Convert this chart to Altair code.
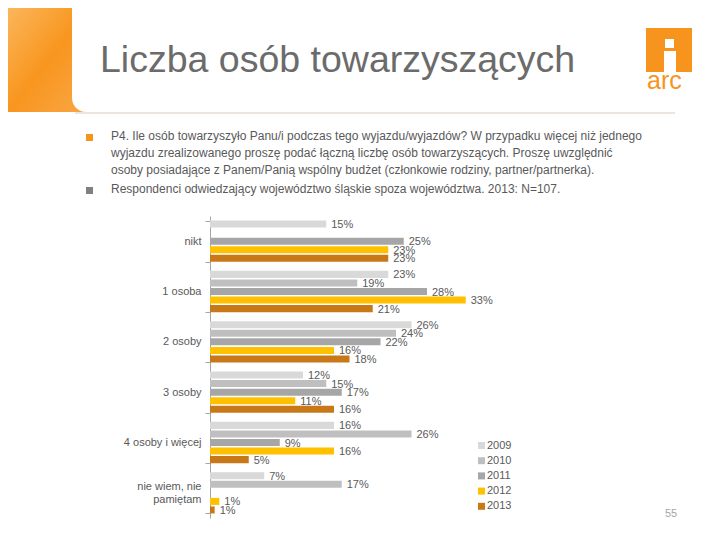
import altair as alt
import pandas as pd

categories = ["nikt", "1 osoba", "2 osoby", "3 osoby", "4 osoby i więcej", "nie wiem, nie pamiętam"]
years = ["2009", "2010", "2011", "2012", "2013"]
v2009 = [15, 23, 26, 12, 16, 7]
v2010 = [None, 19, 24, 15, 26, 17]
v2011 = [25, 28, 22, 17, 9, None]
v2012 = [23, 33, 16, 11, 16, 1.2]
v2013 = [23, 21, 18, 16, 5, 0.6]
colors = ["#d9d9d9", "#bfbfbf", "#a6a6a6", "#ffc000", "#c97818"]

title_text = "Liczba osób towarzyszących"
bullet1 = ["P4. Ile osób towarzyszyło Panu/i podczas tego wyjazdu/wyjazdów? W przypadku więcej niż jednego",
           "wyjazdu zrealizowanego proszę podać łączną liczbę osób towarzyszących. Proszę uwzględnić",
           "osoby posiadające z Panem/Panią wspólny budżet (członkowie rodziny, partner/partnerka)."]
bullet2 = "Respondenci odwiedzający województwo śląskie spoza województwa. 2013: N=107."
page_no = "55"

rows = []
for y, vals in zip(years, [v2009, v2010, v2011, v2012, v2013]):
    for c, v in zip(categories, vals):
        if v is not None:
            rows.append({"cat": c, "year": y, "value": v})
df = pd.DataFrame(rows)

one = pd.DataFrame({"k": [0]})
FONT = "Liberation Sans"
GREY = "#595959"
LAST = "nie wiem, nie pamiętam"

yenc = alt.Y("cat:N", sort=categories,
             scale=alt.Scale(domain=categories, paddingInner=0.18, paddingOuter=0.09),
             axis=alt.Axis(title=None, tickBand="extent", domainColor="#a6a6a6", tickColor="#a6a6a6",
                           tickSize=5, labelColor=GREY, labelFontSize=11, labelFont=FONT,
                           labelPadding=4, grid=False, labelLineHeight=13,
                           labelOffset={"condition": {"test": "datum.value == '" + LAST + "'", "value": -6}, "value": 0},
                           labelExpr="datum.label == '" + LAST + "' ? ['nie wiem, nie', 'pamiętam'] : datum.label"))
yoff = alt.YOffset("year:N", sort=years, scale=alt.Scale(domain=years, paddingInner=0.18))
xenc = alt.X("value:Q", scale=alt.Scale(domain=[0, 40]), axis=None)

bars = alt.Chart(df).mark_bar().encode(
    x=xenc, y=yenc, yOffset=yoff,
    color=alt.Color("year:N", scale=alt.Scale(domain=years, range=colors),
                    legend=alt.Legend(title=None, orient="none", legendX=266, legendY=224,
                                      symbolType="square", symbolSize=49, symbolStrokeWidth=0,
                                      labelColor=GREY, labelFontSize=11, labelFont=FONT,
                                      rowPadding=3.2, labelOffset=0)),
)
labels = alt.Chart(df).transform_calculate(
    lab="format(datum.value, '.0f') + '%'"
).mark_text(align="left", baseline="middle", dx=5, dy=1, fontSize=11, font=FONT, color=GREY).encode(
    x=xenc, y=alt.Y("cat:N", sort=categories), yOffset=alt.YOffset("year:N", sort=years), text="lab:N"
)

grad = alt.Gradient(gradient="linear", x1=0, y1=0, x2=1, y2=1,
                    stops=[alt.GradientStop(color="#fbb65a", offset=0),
                           alt.GradientStop(color="#f8961f", offset=0.5),
                           alt.GradientStop(color="#f9a748", offset=1)])
orange_block = alt.Chart(one).mark_rect(color=grad).encode(
    x=alt.value(-202), x2=alt.value(-120), y=alt.value(-208), y2=alt.value(-104))
white_card = alt.Chart(one).mark_rect(color="white", cornerRadiusBottomLeft=14).encode(
    x=alt.value(-138), x2=alt.value(502), y=alt.value(-220), y2=alt.value(-104))
hline = alt.Chart(one).mark_rule(color="#e6ddd2", strokeWidth=1.5).encode(
    x=alt.value(-135), x2=alt.value(465), y=alt.value(-103))
title = alt.Chart(one).mark_text(text=title_text, align="left", baseline="alphabetic",
                                 fontSize=37.5, font=FONT, color="#6b6b6b").encode(
    x=alt.value(-110), y=alt.value(-144))
logo_box = alt.Chart(one).mark_rect(color="#f7941d").encode(
    x=alt.value(436), x2=alt.value(482), y=alt.value(-188), y2=alt.value(-144))
logo_tower = alt.Chart(one).mark_rect(color="white").encode(
    x=alt.value(454), x2=alt.value(466), y=alt.value(-165), y2=alt.value(-144))
logo_lamp = alt.Chart(one).mark_rect(color="white").encode(
    x=alt.value(455), x2=alt.value(464), y=alt.value(-177), y2=alt.value(-168))
logo_text = alt.Chart(one).mark_text(text="arc", align="left", baseline="alphabetic",
                                     fontSize=25, font=FONT, color="#f7941d").encode(
    x=alt.value(437), y=alt.value(-127))
sq1 = alt.Chart(one).mark_rect(color="#f7941d").encode(
    x=alt.value(-124), x2=alt.value(-117), y=alt.value(-82), y2=alt.value(-75))
sq2 = alt.Chart(one).mark_rect(color="#808080").encode(
    x=alt.value(-124), x2=alt.value(-117), y=alt.value(-29), y2=alt.value(-22))
b1 = alt.Chart(one).mark_text(text=bullet1, align="left", baseline="middle", lineHeight=17,
                              fontSize=12, font=FONT, color=GREY).encode(
    x=alt.value(-99), y=alt.value(-80))
b2 = alt.Chart(one).mark_text(text=bullet2, align="left", baseline="middle",
                              fontSize=12, font=FONT, color=GREY).encode(
    x=alt.value(-99), y=alt.value(-27))
pn = alt.Chart(one).mark_text(text=page_no, align="left", baseline="middle",
                              fontSize=11, font=FONT, color="#a6a6a6").encode(
    x=alt.value(455), y=alt.value(298))

chart = alt.layer(orange_block, white_card, hline, title, logo_box, logo_tower, logo_lamp, logo_text,
                  sq1, sq2, b1, b2, pn, bars, labels).properties(
    width=310, height=302,
    autosize=alt.AutoSizeParams(type="none"),
    padding={"left": 202, "top": 208, "right": 192, "bottom": 14},
).configure_view(stroke=None)

chart.save("out.html", embed_options={"renderer": "svg", "actions": False})
